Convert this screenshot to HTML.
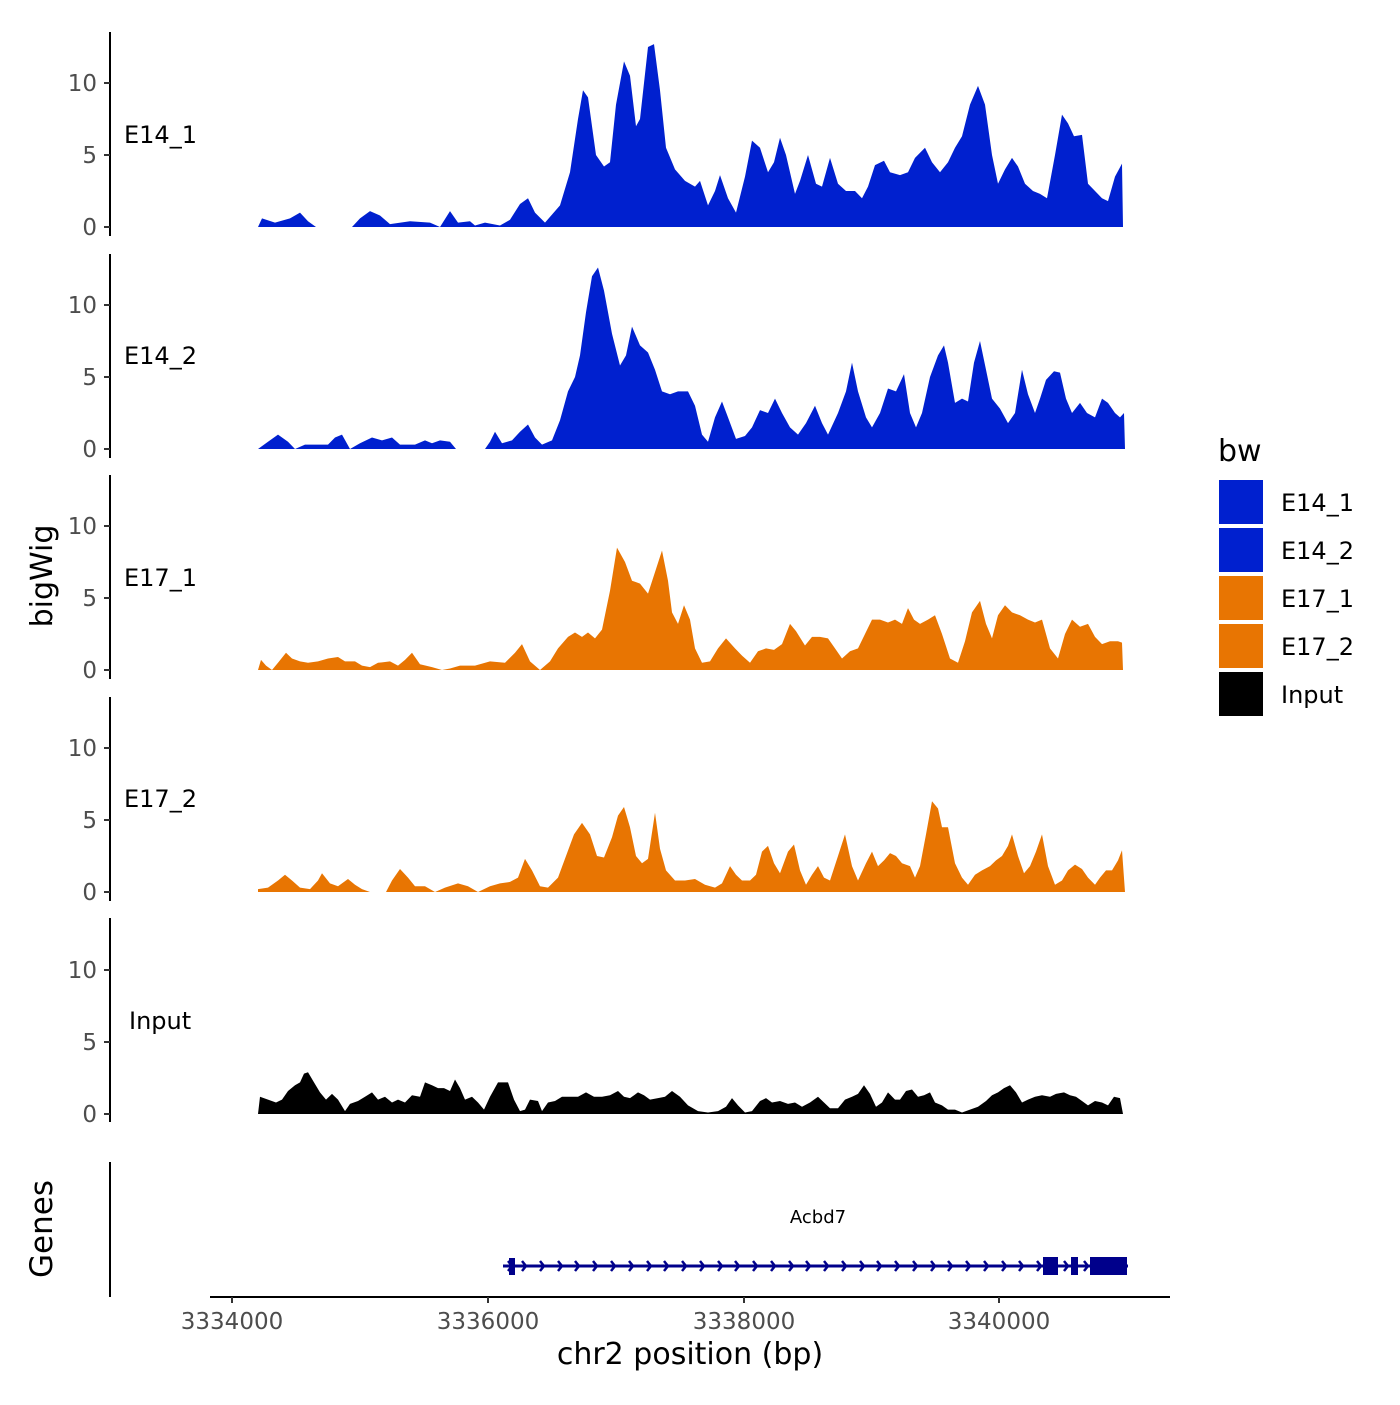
<!DOCTYPE html>
<html><head><meta charset="utf-8"><style>
body{margin:0;background:#fff}
svg text{font-family:"DejaVu Sans","Liberation Sans",sans-serif}
</style></head><body>
<svg width="1400" height="1400" viewBox="0 0 1400 1400" xmlns="http://www.w3.org/2000/svg">
<rect width="1400" height="1400" fill="#fff"/>
<g transform="translate(0,227) scale(1,-14.4)" fill="#0020CF">
<polygon points="258,0 262,0.6 275,0.3 290,0.6 300,1 308,0.4 316,0 352,0 360,0.6 370,1.1 380,0.8 390,0.2 410,0.4 430,0.3 440,0 450,1.1 458,0.3 470,0.4 475,0.1 485,0.3 500,0.1 510,0.5 520,1.6 528,2 535,1 545,0.3 560,1.5 570,3.8 578,7.5 583,9.5 588,9 596,5 604,4.2 610,4.5 616,8.5 624,11.5 630,10.5 636,7 640,7.5 648,12.5 654,12.7 660,9.5 666,5.5 675,4 685,3.2 695,2.8 700,3.2 708,1.5 715,2.5 720,3.6 728,2 736,1 745,3.5 752,6 760,5.5 768,3.8 774,4.5 780,6.2 786,5 795,2.3 800,3.2 808,5 816,3 822,2.8 830,4.8 838,3 846,2.5 855,2.5 862,2 868,2.8 875,4.3 884,4.6 890,3.8 900,3.6 908,3.8 915,4.8 925,5.5 932,4.5 940,3.8 948,4.5 955,5.5 962,6.3 970,8.5 978,9.8 985,8.5 992,5 998,3 1005,4 1012,4.8 1018,4.2 1025,3 1033,2.5 1040,2.3 1047,2 1055,5 1062,7.8 1068,7.2 1074,6.3 1082,6.4 1088,3 1095,2.5 1102,2 1108,1.8 1115,3.5 1122,4.4 1123,0"/>
</g>
<g transform="translate(0,449) scale(1,-14.4)" fill="#0020CF">
<polygon points="258,0 268,0.5 278,1 288,0.5 295,0 305,0.3 315,0.3 328,0.3 335,0.8 342,1 350,0 360,0.4 372,0.8 382,0.6 392,0.8 400,0.3 415,0.3 425,0.6 432,0.4 440,0.6 450,0.5 456,0 485,0 490,0.5 495,1.2 502,0.4 512,0.6 520,1.2 528,1.7 535,0.8 542,0.3 552,0.6 560,2 568,4 575,5 580,6.5 586,9.5 592,12 598,12.6 604,11 612,8 620,5.8 626,6.5 632,8.5 640,7.2 648,6.7 655,5.5 662,4 670,3.8 678,4 688,4 695,3 702,1 708,0.5 715,2.2 722,3.3 728,2.2 736,0.7 745,0.9 752,1.5 760,2.7 768,2.5 775,3.5 782,2.5 790,1.5 798,1 806,1.8 815,3 822,1.8 828,1 838,2.5 846,4 852,6 858,4 866,2.2 872,1.5 880,2.5 888,4.2 896,4 904,5.2 910,2.5 916,1.5 922,2.5 930,5 938,6.5 944,7.2 948,6 955,3.2 962,3.5 968,3.3 974,6 980,7.5 986,5.5 992,3.5 1000,2.8 1008,1.8 1015,2.5 1022,5.5 1028,3.8 1035,2.5 1040,3.5 1046,4.8 1054,5.4 1060,5.3 1066,3.5 1072,2.5 1080,3.2 1087,2.5 1095,2.2 1102,3.5 1108,3.2 1115,2.5 1120,2.2 1124,2.5 1125,0"/>
</g>
<g transform="translate(0,670) scale(1,-14.4)" fill="#E87502">
<polygon points="258,0 261,0.7 266,0.3 272,0 278,0.5 286,1.2 292,0.8 300,0.6 308,0.5 318,0.6 328,0.8 338,0.9 345,0.6 355,0.6 362,0.3 370,0.2 378,0.5 390,0.6 398,0.3 405,0.7 412,1.2 420,0.4 432,0.2 442,0 450,0.1 460,0.3 475,0.3 490,0.6 505,0.5 515,1.2 522,1.8 530,0.6 540,0 550,0.6 558,1.5 568,2.3 575,2.6 582,2.3 588,2.6 595,2.2 602,2.8 610,5.5 617,8.5 625,7.5 632,6.2 640,6 648,5.3 655,6.8 662,8.3 668,6.2 672,4 678,3.2 684,4.5 690,3.5 695,1.5 702,0.5 710,0.6 718,1.5 726,2.2 735,1.5 742,1 750,0.5 758,1.3 766,1.5 774,1.4 782,1.8 790,3.2 796,2.7 805,1.7 812,2.3 820,2.3 828,2.2 835,1.5 842,0.8 850,1.3 858,1.5 865,2.5 872,3.5 880,3.5 888,3.3 895,3.5 902,3.2 908,4.3 914,3.5 920,3.2 928,3.5 935,3.8 942,2.5 950,0.8 958,0.5 965,2 972,4 980,4.8 986,3.2 992,2.2 998,3.8 1005,4.5 1012,4 1020,3.8 1028,3.5 1035,3.3 1042,3.5 1050,1.5 1058,0.8 1065,2.5 1072,3.5 1080,3 1088,3.2 1095,2.3 1102,1.8 1110,2 1118,2 1122,1.9 1123,0"/>
</g>
<g transform="translate(0,892) scale(1,-14.4)" fill="#E87502">
<polygon points="258,0 258,0.2 268,0.3 278,0.8 285,1.2 292,0.8 300,0.3 310,0.2 318,0.8 322,1.3 330,0.6 338,0.4 348,0.9 355,0.5 362,0.2 370,0 386,0 392,0.8 400,1.6 408,1 415,0.4 425,0.4 435,0 445,0.3 458,0.6 468,0.4 478,0 490,0.4 500,0.6 510,0.7 518,1 525,2.3 532,1.5 540,0.4 548,0.3 558,1 566,2.5 574,4 582,4.8 590,4 597,2.5 604,2.4 612,3.8 618,5.3 624,5.9 630,4.5 636,2.5 642,2 648,2.3 655,5.5 660,3 666,1.5 675,0.8 685,0.8 695,0.9 705,0.5 715,0.3 722,0.6 730,1.8 736,1.2 742,0.8 750,0.8 756,1.2 762,2.8 768,3.2 774,2 780,1.3 788,2.8 794,3.3 800,1.5 806,0.5 812,1.2 818,1.8 824,1 830,0.8 838,2.5 845,4 852,1.8 858,0.8 866,2 872,2.8 878,1.8 884,2.2 890,2.7 896,2.5 902,2 910,1.8 915,1 920,1.8 926,4 932,6.3 938,5.8 942,4.5 948,4.5 955,2 962,1 968,0.5 975,1.2 982,1.5 990,1.8 996,2.2 1002,2.5 1008,3.2 1012,4 1018,2.5 1024,1.3 1030,1.8 1036,2.8 1042,4 1048,1.8 1055,0.5 1062,0.8 1068,1.5 1075,1.9 1082,1.6 1088,1 1095,0.5 1100,1 1106,1.5 1112,1.5 1118,2.2 1122,2.9 1125,0"/>
</g>
<g transform="translate(0,1114) scale(1,-14.4)" fill="#000">
<polygon points="258,0 260,1.2 268,1 276,0.8 282,1 288,1.6 295,2 300,2.2 304,2.8 308,2.9 314,2.2 320,1.5 326,1 332,1.4 338,1 345,0.2 350,0.7 358,0.9 365,1.2 372,1.5 378,1 385,1.2 392,0.8 398,1 405,0.8 412,1.3 420,1.2 425,2.2 432,2 438,1.8 444,1.8 450,1.6 455,2.4 460,1.8 465,1 472,1.2 478,0.8 484,0.3 490,1.2 498,2.2 508,2.2 514,1 520,0.2 525,0.3 530,1 538,0.9 542,0.2 548,0.8 555,0.9 562,1.2 570,1.2 578,1.2 586,1.5 594,1.2 602,1.2 610,1.3 618,1.6 624,1.2 630,1.1 638,1.5 644,1.3 650,1 658,1.1 665,1.2 672,1.6 680,1.2 688,0.6 698,0.2 708,0.1 718,0.2 726,0.5 732,1.1 738,0.6 745,0.1 752,0.2 760,0.9 766,1.1 772,0.8 780,0.9 788,0.7 795,0.8 802,0.5 810,0.8 818,1.2 824,0.8 830,0.4 838,0.4 845,1 852,1.2 858,1.4 864,2 870,1.4 876,0.5 882,0.8 888,1.5 895,1 900,1 906,1.6 912,1.7 918,1.2 924,1.3 930,1.5 935,0.8 942,0.6 948,0.3 955,0.3 962,0.1 970,0.3 978,0.5 986,0.9 992,1.3 998,1.5 1004,1.8 1010,2 1016,1.5 1022,0.8 1028,1 1035,1.2 1042,1.3 1050,1.2 1056,1.4 1064,1.5 1070,1.3 1076,1.2 1082,0.9 1088,0.6 1095,0.9 1102,0.8 1108,0.6 1114,1.2 1120,1.1 1123,0"/>
</g>
<g stroke="#000" stroke-width="2">
<line x1="110" y1="32" x2="110" y2="236"/>
<line x1="110" y1="254" x2="110" y2="458"/>
<line x1="110" y1="475" x2="110" y2="679"/>
<line x1="110" y1="697" x2="110" y2="901"/>
<line x1="110" y1="918" x2="110" y2="1122"/>
<line x1="110" y1="1162" x2="110" y2="1297"/>
<line x1="210" y1="1297" x2="1170" y2="1297"/>
</g>
<g stroke="#333" stroke-width="2">
<path d="M104,227H110M104,155H110M104,83H110 M104,449H110M104,377H110M104,305H110 M104,670H110M104,598H110M104,526H110 M104,892H110M104,820H110M104,748H110 M104,1114H110M104,1042H110M104,970H110 M232,1297V1303M488,1297V1303M744,1297V1303M999,1297V1303"/>
</g>
<g font-size="23" fill="#4d4d4d" text-anchor="end">
<text x="97" y="235">0</text><text x="97" y="163">5</text><text x="97" y="91">10</text>
<text x="97" y="457">0</text><text x="97" y="385">5</text><text x="97" y="313">10</text>
<text x="97" y="678">0</text><text x="97" y="606">5</text><text x="97" y="534">10</text>
<text x="97" y="900">0</text><text x="97" y="828">5</text><text x="97" y="756">10</text>
<text x="97" y="1122">0</text><text x="97" y="1050">5</text><text x="97" y="978">10</text>
</g>
<g font-size="23" fill="#4d4d4d" text-anchor="middle">
<text x="232" y="1329">3334000</text><text x="488" y="1329">3336000</text><text x="744" y="1329">3338000</text><text x="999" y="1329">3340000</text>
</g>
<g font-size="24" fill="#000">
<text x="124" y="143">E14_1</text><text x="124" y="364">E14_2</text><text x="124" y="586">E17_1</text><text x="124" y="807">E17_2</text><text x="129" y="1029">Input</text>
</g>
<text x="690" y="1364" font-size="30" text-anchor="middle">chr2 position (bp)</text>
<text transform="translate(52,576) rotate(-90)" font-size="30" text-anchor="middle">bigWig</text>
<text transform="translate(52,1229) rotate(-90)" font-size="31" text-anchor="middle">Genes</text>
<text x="818" y="1223" font-size="18" text-anchor="middle">Acbd7</text>
<line x1="503" y1="1266" x2="1128" y2="1266" stroke="#00008B" stroke-width="3"/>
<g fill="none" stroke="#00008B" stroke-width="2.5">
<path d="M508,1261l4,5l-4,5M522,1261l4,5l-4,5M540,1261l4,5l-4,5M558,1261l4,5l-4,5M575,1261l4,5l-4,5M593,1261l4,5l-4,5M611,1261l4,5l-4,5M629,1261l4,5l-4,5M647,1261l4,5l-4,5M664,1261l4,5l-4,5M682,1261l4,5l-4,5M700,1261l4,5l-4,5M718,1261l4,5l-4,5M735,1261l4,5l-4,5M753,1261l4,5l-4,5M771,1261l4,5l-4,5M789,1261l4,5l-4,5M806,1261l4,5l-4,5M824,1261l4,5l-4,5M842,1261l4,5l-4,5M860,1261l4,5l-4,5M877,1261l4,5l-4,5M895,1261l4,5l-4,5M913,1261l4,5l-4,5M931,1261l4,5l-4,5M948,1261l4,5l-4,5M966,1261l4,5l-4,5M984,1261l4,5l-4,5M1002,1261l4,5l-4,5M1019,1261l4,5l-4,5M1037,1261l4,5l-4,5M1064,1261l4,5l-4,5M1084,1261l4,5l-4,5"/>
</g>
<g fill="#00008B">
<rect x="509" y="1258" width="6" height="17"/>
<rect x="1043" y="1257" width="15" height="18"/>
<rect x="1071" y="1257" width="7" height="18"/>
<rect x="1090" y="1257" width="37" height="18"/>
</g>
<text x="1218" y="461" font-size="30">bw</text>
<rect x="1219" y="480" width="44" height="44" fill="#0020CF"/>
<rect x="1219" y="528" width="44" height="44" fill="#0020CF"/>
<rect x="1219" y="576" width="44" height="44" fill="#E87502"/>
<rect x="1219" y="624" width="44" height="44" fill="#E87502"/>
<rect x="1219" y="672" width="44" height="44" fill="#000"/>
<g font-size="24" fill="#000">
<text x="1281" y="511">E14_1</text><text x="1281" y="559">E14_2</text><text x="1281" y="607">E17_1</text><text x="1281" y="655">E17_2</text><text x="1281" y="703">Input</text>
</g>
</svg>
</body></html>
